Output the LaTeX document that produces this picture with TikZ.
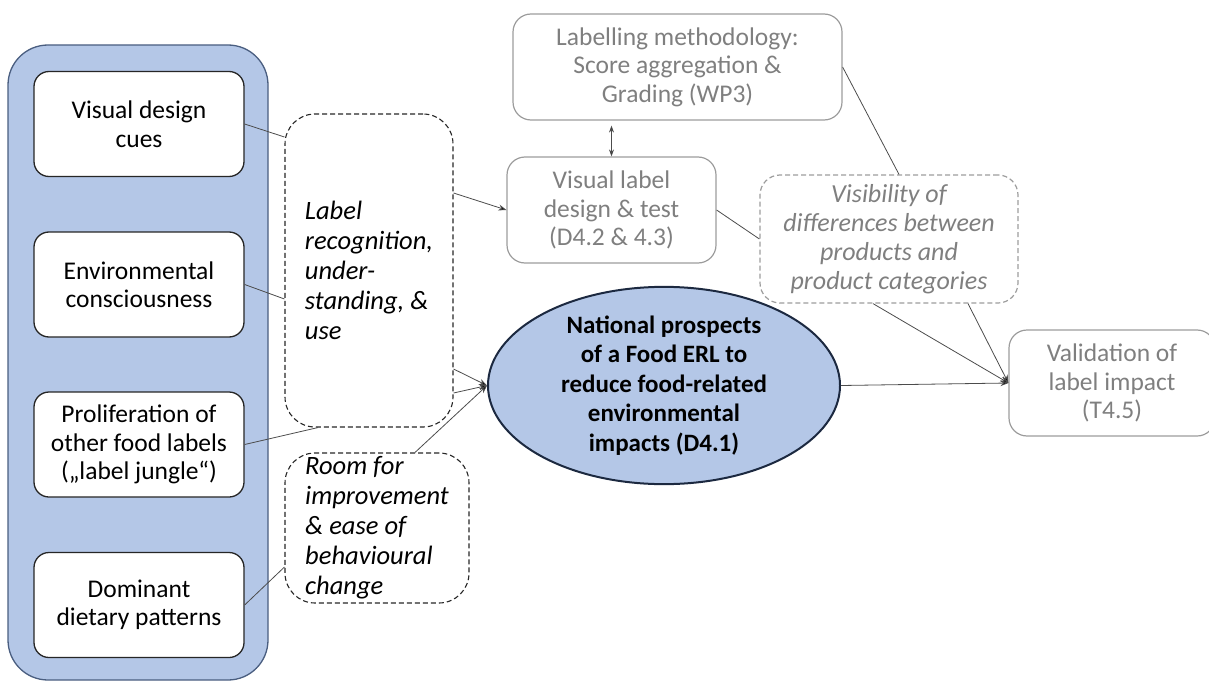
\documentclass[tikz,border=0pt]{standalone}
\usepackage{fontspec}
\setmainfont{Carlito}
\usetikzlibrary{arrows.meta,calc,shapes.geometric}
\definecolor{bluefill}{HTML}{B4C7E7}
\definecolor{blueborder}{HTML}{4A5E80}
\definecolor{ellborder}{HTML}{1C2940}
\definecolor{textgray}{HTML}{7F7F7F}
\definecolor{boxgray}{HTML}{9C9C9C}
\begin{document}
\begin{tikzpicture}[x=1pt,y=-1pt,
  txt/.style={font=\fontsize{25.5}{28.5}\selectfont},
  outer/.style={draw=blueborder, fill=bluefill, rounded corners=40pt, minimum width=260pt, minimum height=635pt, line width=1.3pt},
  wbox/.style={txt, draw=black!85, fill=white, rounded corners=15pt, minimum width=210pt, minimum height=105pt, line width=1.3pt, align=center, inner sep=0pt},
  dbox/.style={txt, draw=black!85, dash pattern=on 5pt off 3pt, rounded corners=30pt, line width=1.1pt, align=left, inner sep=0pt, font=\fontsize{26.5}{30}\selectfont\itshape},
  gbox/.style={txt, draw=boxgray, rounded corners=18pt, line width=1.2pt, text=textgray, align=center, inner sep=0pt},
  gdbox/.style={gbox, dash pattern=on 5pt off 3pt, rounded corners=20pt, font=\fontsize{26}{29}\selectfont\itshape},
  ell/.style={ellipse, draw=ellborder, fill=bluefill, line width=2pt, minimum width=352pt, minimum height=175pt, inner sep=0pt, align=center, font=\fontsize{25}{29.5}\selectfont\bfseries},
  conn/.style={draw=black!70, line width=0.8pt},
  arr/.style={conn, -{Stealth[length=8pt,width=6pt,fill=black]}},
  darr/.style={conn, {Stealth[length=7pt,width=5pt,fill=black]}-{Stealth[length=7pt,width=5pt,fill=black]}}
]
\useasboundingbox (0,0) rectangle (1209,682);

\node[outer] (outer) at (138,362.5) {};
\node[wbox] (vdc) at (139,124) {Visual design\\cues};
\node[wbox] (env) at (139,284.5) {Environmental\\consciousness};
\node[wbox] (pro) at (139,444.5) {Proliferation of\\other food labels\\(„label jungle“)};
\node[wbox] (dom) at (139,605) {Dominant\\dietary patterns};

\node[dbox, minimum width=168pt, minimum height=313pt] (d1) at (369,270.5) {Label\\recognition,\\under-\\standing, \&\\use};
\node[dbox, minimum width=184pt, minimum height=150pt] (d2) at (377,528) {Room for\\improvement\\\& ease of\\behavioural\\change};

\node[gbox, minimum width=329pt, minimum height=106pt] (lab) at (677.5,67) {Labelling methodology:\\Score aggregation \&\\Grading (WP3)};
\node[gbox, minimum width=209pt, minimum height=106pt] (vl) at (611.5,210) {Visual label\\design \& test\\(D4.2 \& 4.3)};
\node[gdbox, minimum width=258pt, minimum height=128pt] (vis) at (889,239) {Visibility of\\differences between\\products and\\product categories};
\node[gbox, minimum width=206pt, minimum height=106pt] (val) at (1112,383) {Validation of\\label impact\\(T4.5)};

\node[ell] (ell) at (664,385.5) {National prospects\\of a Food ERL to\\reduce food-related\\environmental\\impacts (D4.1)};

% left connectors
\draw[conn] (vdc.east) -- ([yshift=133.5pt]d1.west);
\draw[conn] (env.east) -- ([yshift=-28.5pt]d1.west);
\draw[conn] (pro.east) -- ([xshift=-51pt]d1.south);
\draw[conn] (dom.east) -- ([yshift=-39pt]d2.west);

% to visual label and ellipse
\draw[arr] ([yshift=77.5pt]d1.east) -- (vl.west);
\draw[arr] ([yshift=-98.5pt]d1.east) -- (ell.west);
\draw[arr] ([yshift=-122.5pt]d1.east) -- (ell.west);
\draw[arr] ([xshift=38pt]d2.north) -- (ell.west);

% top right
\draw[darr, shorten <=5pt] (vl.north |- lab.south) -- (vl.north);
\draw[conn] (vl.east) -- (vis.west);
\draw[conn] (lab.east) -- ([xshift=10pt]vis.north);

% to validation
\draw[arr] (ell.east) -- (val.west);
\draw[arr] ([xshift=-16pt]vis.south) -- (val.west);
\draw[arr] ([xshift=79pt]vis.south) -- (val.west);
\end{tikzpicture}
\end{document}
